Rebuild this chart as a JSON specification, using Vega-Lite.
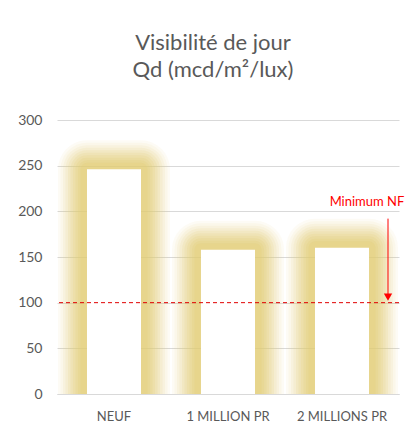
{
  "$schema": "https://vega.github.io/schema/vega-lite/v6.json",
  "width": 342,
  "height": 274,
  "autosize": {"type": "none"},
  "padding": {"left": 57, "top": 120, "right": 15, "bottom": 34},
  "background": "white",
  "title": {
    "text": ["Visibilité de jour", "Qd (mcd/m²/lux)"],
    "font": "Lato",
    "fontSize": 22,
    "fontWeight": "normal",
    "color": "#595959",
    "lineHeight": 27,
    "anchor": "middle",
    "dx": -15,
    "offset": 31
  },
  "config": {
    "view": {"stroke": null},
    "font": "Lato",
    "axis": {
      "labelFont": "Lato",
      "labelFontSize": 13,
      "labelColor": "#595959",
      "ticks": false,
      "title": null,
      "gridColor": "#d9d9d9",
      "domainColor": "#d9d9d9"
    }
  },
  "data": {
    "values": [
      {"etat": "NEUF", "qd": 246},
      {"etat": "1 MILLION PR", "qd": 158},
      {"etat": "2 MILLIONS PR", "qd": 160}
    ]
  },
  "encoding": {
    "x": {
      "field": "etat",
      "type": "nominal",
      "sort": null,
      "scale": {"paddingInner": 0.526, "paddingOuter": 0.263},
      "axis": {"labelAngle": 0, "labelPadding": 16, "grid": false, "domain": true}
    },
    "y": {
      "field": "qd",
      "type": "quantitative",
      "scale": {"domain": [0, 300]},
      "axis": {"values": [0, 50, 100, 150, 200, 250, 300], "domain": false, "grid": true, "labelPadding": 15, "labelFontSize": 14}
    }
  },
  "layer": [
    {"mark": {"type": "bar", "fill": null, "stroke": "#e3cc74", "strokeWidth": 58, "strokeOpacity": 0.07, "strokeJoin": "round", "clip": true}},
    {"mark": {"type": "bar", "fill": null, "stroke": "#e3cc74", "strokeWidth": 53, "strokeOpacity": 0.08, "strokeJoin": "round", "clip": true}},
    {"mark": {"type": "bar", "fill": null, "stroke": "#e3cc74", "strokeWidth": 48, "strokeOpacity": 0.1, "strokeJoin": "round", "clip": true}},
    {"mark": {"type": "bar", "fill": null, "stroke": "#e3cc74", "strokeWidth": 43, "strokeOpacity": 0.12, "strokeJoin": "round", "clip": true}},
    {"mark": {"type": "bar", "fill": null, "stroke": "#e3cc74", "strokeWidth": 38, "strokeOpacity": 0.14, "strokeJoin": "round", "clip": true}},
    {"mark": {"type": "bar", "fill": null, "stroke": "#e3cc74", "strokeWidth": 33, "strokeOpacity": 0.16, "strokeJoin": "round", "clip": true}},
    {"mark": {"type": "bar", "fill": null, "stroke": "#e3cc74", "strokeWidth": 28, "strokeOpacity": 0.18, "strokeJoin": "round", "clip": true}},
    {"mark": {"type": "bar", "fill": null, "stroke": "#e3cc74", "strokeWidth": 23, "strokeOpacity": 0.2, "strokeJoin": "round", "clip": true}},
    {"mark": {"type": "bar", "fill": null, "stroke": "#e3cc74", "strokeWidth": 18, "strokeOpacity": 0.22, "strokeJoin": "round", "clip": true}},
    {"mark": {"type": "bar", "fill": null, "stroke": "#e3cc74", "strokeWidth": 13, "strokeOpacity": 0.25, "strokeJoin": "round", "clip": true}},
    {"mark": {"type": "bar", "fill": "white", "stroke": null, "clip": true}},
    {
      "data": {"values": [{"seuil": 100}]},
      "mark": {"type": "rule", "color": "#e00000", "strokeWidth": 1, "strokeDash": [4, 3]},
      "encoding": {"y": {"field": "seuil", "type": "quantitative"}, "x": null}
    },
    {
      "data": {"values": [{"etat": "2 MILLIONS PR", "haut": 192, "bas": 106, "label": "Minimum NF", "ly": 210}]},
      "layer": [
        {
          "mark": {"type": "rule", "color": "#ff0000", "strokeWidth": 1, "xOffset": 46},
          "encoding": {
            "x": {"field": "etat", "type": "nominal"},
            "y": {"field": "haut", "type": "quantitative"},
            "y2": {"field": "bas"}
          }
        },
        {
          "mark": {"type": "point", "shape": "triangle-down", "filled": true, "color": "#ff0000", "size": 70, "opacity": 1, "xOffset": 46},
          "encoding": {
            "x": {"field": "etat", "type": "nominal"},
            "y": {"field": "bas", "type": "quantitative"}
          }
        },
        {
          "mark": {"type": "text", "color": "#ff0000", "font": "Lato", "fontSize": 13, "xOffset": 25},
          "encoding": {
            "x": {"field": "etat", "type": "nominal"},
            "y": {"field": "ly", "type": "quantitative"},
            "text": {"field": "label"}
          }
        }
      ]
    }
  ]
}
